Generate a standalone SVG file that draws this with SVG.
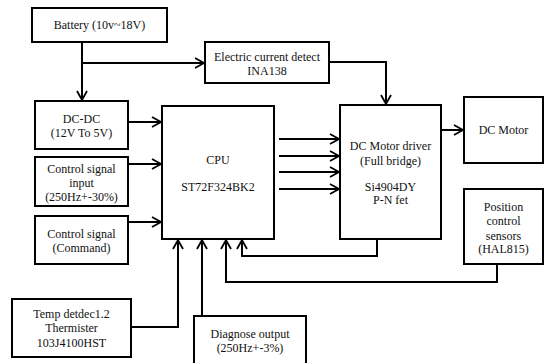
<svg xmlns="http://www.w3.org/2000/svg" width="545" height="363" viewBox="0 0 545 363">
<style>
.b{fill:#fff;stroke:#000;stroke-width:2}
.t{font-size:12px;fill:#111;text-anchor:middle}
.c{fill:none;stroke:#000;stroke-width:2}
</style>
<defs>
<marker id="a" markerWidth="12" markerHeight="12" refX="10" refY="6" orient="auto" markerUnits="userSpaceOnUse">
<path d="M1,1 L10,6 L1,11" fill="none" stroke="#000" stroke-width="1.8"/>
</marker>
</defs>
<rect width="545" height="363" fill="#fff"/>
<g id="connectors">
<path class="c" d="M82,42 V100" marker-end="url(#a)"/>
<path class="c" d="M82,63 H204" marker-end="url(#a)"/>
<path class="c" d="M329,62 H386 V104" marker-end="url(#a)"/>
<path class="c" d="M128,122 H161" marker-end="url(#a)"/>
<path class="c" d="M128,164 H161" marker-end="url(#a)"/>
<path class="c" d="M128,222 H161" marker-end="url(#a)"/>
<path class="c" d="M279,139 H339" marker-end="url(#a)"/>
<path class="c" d="M279,156 H339" marker-end="url(#a)"/>
<path class="c" d="M279,172 H339" marker-end="url(#a)"/>
<path class="c" d="M279,189 H339" marker-end="url(#a)"/>
<path class="c" d="M441,130 H463" marker-end="url(#a)"/>
<path class="c" d="M131,327 H178 V240" marker-end="url(#a)"/>
<path class="c" d="M202,316 V240" marker-end="url(#a)"/>
<path class="c" d="M497,264 V282 H226 V240" marker-end="url(#a)"/>
<path class="c" d="M377,239 V256 H242 V240" marker-end="url(#a)"/>
</g>
<g font-family="Liberation Serif, Times New Roman, serif">
<g id="battery"><rect class="b" x="32" y="8" width="135" height="34"/><text class="t" x="99.5" y="29">Battery (10v~18V)</text></g>
<g id="current"><rect class="b" x="205" y="42" width="124" height="41"/><text class="t" x="267" y="61">Electric current detect</text><text class="t" x="267" y="75">INA138</text></g>
<g id="dcdc"><rect class="b" x="35" y="101" width="93" height="48"/><text class="t" x="81.5" y="123">DC-DC</text><text class="t" x="81.5" y="137">(12V To 5V)</text></g>
<g id="ctrl_input"><rect class="b" x="35" y="157" width="93" height="49"/><text class="t" x="81.5" y="173">Control signal</text><text class="t" x="81.5" y="187">input</text><text class="t" x="81.5" y="201">(250Hz+-30%)</text></g>
<g id="ctrl_cmd"><rect class="b" x="35" y="216" width="93" height="48"/><text class="t" x="81.5" y="238">Control signal</text><text class="t" x="81.5" y="252">(Command)</text></g>
<g id="cpu"><rect class="b" x="162" y="106" width="112" height="133"/><text class="t" x="218" y="164">CPU</text><text class="t" x="218" y="191">ST72F324BK2</text></g>
<g id="driver"><rect class="b" x="340" y="105" width="101" height="134"/><text class="t" x="390.5" y="150">DC Motor driver</text><text class="t" x="390.5" y="165">(Full bridge)</text><text class="t" x="390.5" y="191">Si4904DY</text><text class="t" x="390.5" y="204">P-N fet</text></g>
<g id="motor"><rect class="b" x="464" y="97" width="79" height="66"/><text class="t" x="503.5" y="134">DC Motor</text></g>
<g id="position"><rect class="b" x="464" y="189" width="79" height="75"/><text class="t" x="503.5" y="211">Position</text><text class="t" x="503.5" y="225">control</text><text class="t" x="503.5" y="240">sensors</text><text class="t" x="503.5" y="253">(HAL815)</text></g>
<g id="temp"><rect class="b" x="12" y="299" width="119" height="58"/><text class="t" x="71.5" y="318">Temp detdec1.2</text><text class="t" x="71.5" y="332">Thermister</text><text class="t" x="71.5" y="347">103J4100HST</text></g>
<g id="diagnose"><rect class="b" x="194" y="316" width="112" height="60"/><text class="t" x="250" y="338">Diagnose output</text><text class="t" x="250" y="352">(250Hz+-3%)</text></g>
</g>
</svg>
